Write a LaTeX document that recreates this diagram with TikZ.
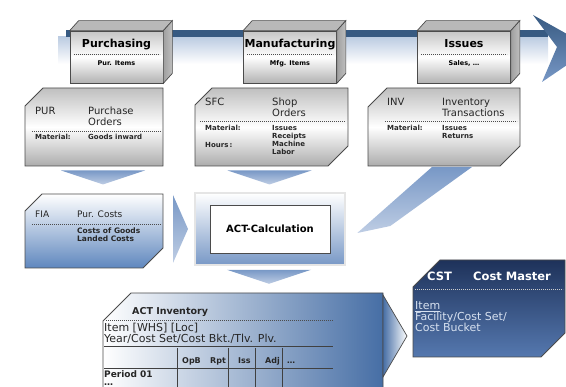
\documentclass[tikz,border=0pt]{standalone}
\usepackage{fontspec}
\setmainfont{DejaVu Sans}

\definecolor{boxline}{RGB}{75,75,75}
\definecolor{bandblue}{RGB}{55,90,130}
\definecolor{bandlight}{RGB}{188,204,226}
\definecolor{chevblue}{RGB}{120,152,198}
\definecolor{chevlight}{RGB}{190,205,228}
\definecolor{fiablue}{RGB}{95,135,190}
\definecolor{invblue}{RGB}{70,110,165}
\definecolor{cstdark}{RGB}{30,50,90}
\definecolor{cstblue}{RGB}{85,120,175}
\definecolor{csttext}{RGB}{215,225,240}

\tikzset{
  cubefront/.style={draw=boxline, line width=.7pt, top color=gray!45, bottom color=gray!60,
    middle color=white, minimum width=93pt, minimum height=52pt, inner sep=0pt},
  cubetop/.style={draw=boxline, line width=.7pt, fill=gray!55},
  cubeside/.style={draw=boxline, line width=.7pt, left color=gray!75, right color=gray!50},
  cardarea/.style={inner sep=0pt, outer sep=0pt},
  graycard/.style={draw=boxline, line width=.9pt, top color=gray!50, bottom color=gray!65, middle color=white},
  fiacard/.style={draw=boxline, line width=.9pt, top color=white, bottom color=fiablue},
  invcard/.style={draw=boxline, line width=.9pt, left color=white, right color=invblue},
  cstcard/.style={draw=boxline, line width=.9pt, top color=cstdark, bottom color=cstblue},
  actframe/.style={draw=boxline, line width=.6pt, double=gray!20, double distance=1.4pt,
    top color=white, bottom color=chevblue, minimum width=150pt, minimum height=72pt, inner sep=0pt},
  actinner/.style={draw=boxline, line width=.8pt, fill=white, minimum width=120pt, minimum height=48pt,
    font=\bfseries\fontsize{10}{12}\selectfont},
  chev/.style={top color=chevblue, bottom color=chevlight},
  bandhead/.style={top color=bandblue, bottom color=chevblue},
  dashline/.style={draw=gray!60!black, line width=.6pt, dash pattern=on 1.2pt off .8pt},
  tabline/.style={draw=black!75, line width=.6pt},
  toptitle/.style={anchor=base, inner sep=0pt, font=\bfseries\fontsize{11}{12}\selectfont},
  topsub/.style={anchor=base, inner sep=0pt, font=\bfseries\fontsize{6.5}{7}\selectfont},
  codetext/.style={anchor=base west, inner sep=0pt, align=left, text=black!85,
    font=\fontsize{10}{10.5}\selectfont},
  infotext/.style={anchor=base west, inner sep=0pt, align=left, text=black!85,
    font=\bfseries\fontsize{7}{8}\selectfont},
  invtext/.style={anchor=base west, inner sep=0pt, align=left, text=black!85,
    font=\fontsize{11}{9.5}\selectfont},
  colhead/.style={anchor=base west, inner sep=0pt, text=black!85, font=\bfseries\fontsize{8}{9}\selectfont},
  csttitle/.style={anchor=base west, inner sep=0pt, text=white, font=\bfseries\fontsize{11.5}{12}\selectfont},
  cstinfo/.style={anchor=base west, inner sep=0pt, align=left, text=csttext,
    font=\fontsize{11}{11}\selectfont}
}

% card with cut corners: style, node, top-left cut, bottom-right cut
\newcommand{\cardpath}[4]{%
  \path[#1] ([yshift=-#3pt]#2.north west) -- ([xshift=#3pt]#2.north west)
    -- (#2.north east) -- ([yshift=#4pt]#2.south east)
    -- ([xshift=-#4pt]#2.south east) -- (#2.south west) -- cycle;}

% top and side faces of a process block
\newcommand{\cubeface}[1]{%
  \path[cubetop] (#1.north west) -- ++(9,-10) -- ([shift={(9,-10)}]#1.north east) -- (#1.north east) -- cycle;
  \path[cubeside] (#1.north east) -- ++(9,-10) -- ([shift={(9,-10)}]#1.south east) -- (#1.south east) -- cycle;}

\begin{document}
\begin{tikzpicture}[x=1pt, y=-1pt]
  \useasboundingbox (0,0) rectangle (566,387);
  \clip (0,0) rectangle (566,387);

  % process band
  \fill[top color=bandlight, bottom color=white] (58,37) rectangle (548,64);
  \fill[bandblue] (66,30) rectangle (548,37);
  \path[bandhead] (533,15) -- (592,48) -- (542,82) -- (557,47) -- cycle;

  \foreach \n/\x/\t/\s in {PURCH/116.5/Purchasing/Pur. Items, MANU/290/Manufacturing/Mfg. Items,
      ISS/464/Issues/{Sales, \ldots}}{
    \node[cubefront] (\n) at (\x,57) {};
    \cubeface{\n}
    \node[toptitle] (\n-title) at (\x,48) {\t};
    \draw[dashline] (\x-43,54) -- (\x+43,54);
    \node[topsub] (\n-sub) at (\x,65.5) {\s};
  }

  % order cards (multi-line texts sit on their last baseline)
  \node[cardarea, minimum width=138pt, minimum height=78pt] (PUR) at (94,127) {};
  \node[cardarea, minimum width=153pt, minimum height=78pt] (SFC) at (271.5,127) {};
  \node[cardarea, minimum width=152pt, minimum height=78pt] (INV) at (444,127) {};
  \cardpath{graycard}{PUR}{18}{0}
  \cardpath{graycard}{SFC}{17}{20}
  \cardpath{graycard}{INV}{19}{20}

  \node[codetext] (PURc) at (35,115) {PUR};
  \node[codetext] (PURt) at (88,125.5) {Purchase\\Orders};
  \draw[dashline] (32,131) -- (161,131);
  \node[infotext] (PURm) at (35,140) {Material:};
  \node[infotext] (PURv) at (88,140) {Goods inward};

  \node[codetext] (SFCc) at (205,106) {SFC};
  \node[codetext] (SFCt) at (272,116.5) {Shop\\Orders};
  \draw[dashline] (200,121) -- (345,121);
  \node[infotext] (SFCm) at (205,131) {Material:};
  \node[infotext] (SFCh) at (205,148) {Hours\,:};
  \node[infotext] (SFCv) at (272,155) {Issues\\Receipts\\Machine\\Labor};

  \node[codetext] (INVc) at (387,106) {INV};
  \node[codetext] (INVt) at (442,116.5) {Inventory\\Transactions};
  \draw[dashline] (385,121) -- (517,121);
  \node[infotext] (INVm) at (387,131) {Material:};
  \node[infotext] (INVv) at (442,139) {Issues\\Returns};

  % costing
  \node[cardarea, minimum width=138pt, minimum height=74pt] (FIA) at (94,231) {};
  \cardpath{fiacard}{FIA}{17}{20}
  \node[codetext, font=\fontsize{9}{10}\selectfont] (FIAc) at (35,218) {FIA};
  \node[codetext, font=\fontsize{9}{10}\selectfont] (FIAt) at (77,218) {Pur. Costs};
  \draw[dashline] (32,224) -- (161,224);
  \node[infotext, font=\bfseries\fontsize{7.5}{8}\selectfont] (FIAv) at (77,242) {Costs of Goods\\Landed Costs};

  \node[actframe] (ACT) at (270,229) {};
  \node[actinner] (ACTc) at (270,229) {ACT-Calculation};

  % flow chevrons
  \foreach \from/\dx in {PUR/9, SFC/-2, ACT/-1}
    \path[chev] ([shift={(\dx-42,4.5)}]\from.south) -- ++(84,0) -- ++(-42,14) -- cycle;
  \path[chev] ([shift={(10,-36)}]FIA.east) -- ([shift={(25,-2)}]FIA.east) -- ([shift={(10,32)}]FIA.east) -- cycle;
  \path[chev] ([shift={(-12,1)}]INV.south) -- ([shift={(28,1)}]INV.south)
    -- ([shift={(45,-3)}]ACT.east) -- ([shift={(12,4)}]ACT.east) -- cycle;

  % inventory
  \node[cardarea, minimum width=280pt, minimum height=128pt] (INVT) at (243,357) {};
  \cardpath{invcard}{INVT}{28}{0}
  \path[draw=boxline, line width=.7pt, left color=invblue, right color=white]
    ([shift={(0,2)}]INVT.north east) -- ([shift={(24,43)}]INVT.north east) -- ([shift={(0,84)}]INVT.north east) -- cycle;
  \node[invtext, font=\bfseries\fontsize{9.5}{10}\selectfont] (INVTt) at (132,315) {ACT Inventory};
  \draw[dashline] (106,320) -- (333,320);
  \node[invtext] (INVTk) at (104,342.5) {Item [WHS] [Loc]\\Year/Cost Set/Cost Bkt./Tlv. Plv.};
  \draw[tabline] (104,346) -- (333,346);
  \draw[tabline] (104,368) -- (333,368);
  \foreach \x in {177,228,255,282}
    \draw[tabline] (\x,348) -- (\x,395);
  \foreach \x/\t [count=\i] in {182/OpB, 210/Rpt, 238/Iss, 265/Adj}
    \node[colhead] (H\i) at (\x,364) {\t};
  \node[colhead] (H5) at (287,364) {\ldots};
  \node[invtext, font=\bfseries\fontsize{9}{10}\selectfont] (P01) at (104,378) {Period 01};
  \node[invtext, font=\bfseries\fontsize{9}{10}\selectfont] (P02) at (104,386) {\ldots};

  % cost master
  \node[cardarea, minimum width=152pt, minimum height=97pt] (CST) at (489,308.5) {};
  \cardpath{cstcard}{CST}{27}{24}
  \node[csttitle] (CSTc) at (427,281) {CST};
  \node[csttitle] (CSTt) at (473,281) {Cost Master};
  \draw[dashline, draw=gray!40] (415,289) -- (563,289);
  \node[cstinfo] (CSTi) at (415,332) {\underline{Item}\\Facility/Cost Set/\\Cost Bucket};
\end{tikzpicture}
\end{document}
